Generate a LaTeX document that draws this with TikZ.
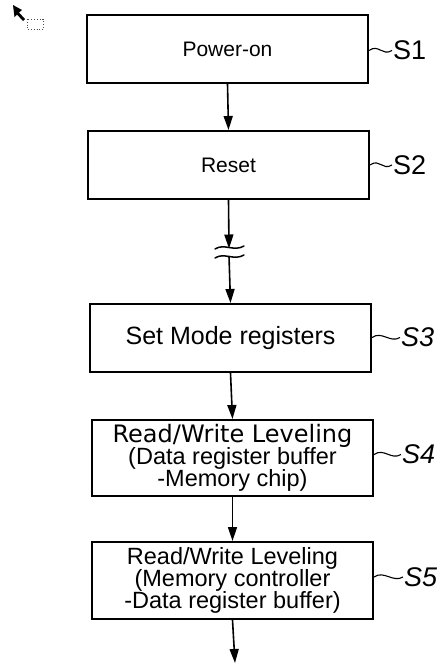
\documentclass[tikz,border=0pt]{standalone}
\usepackage{fontspec}
\setmainfont{Liberation Sans}
\newfontfamily\widefont{DejaVu Sans}
\usetikzlibrary{arrows.meta}

% fixed line spacing inside the multi-line boxes
\newcommand\tightlines{\lineskiplimit=-100pt\lineskip=0pt}

\tikzset{
  stepbox/.style={draw=black, line width=2pt, minimum width=281pt, inner sep=0pt,
                  align=center, fill=white},
  flow/.style={line width=1.6pt, -{Triangle[length=14pt,width=9pt]}},
  tag/.style={anchor=west, inner sep=0pt, font=\fontsize{27}{27}\selectfont},
  tagline/.style={line width=1.1pt},
  wave/.style={line width=1.5pt, line cap=round}
}

\begin{document}
\begin{tikzpicture}[x=1pt, y=-1pt]
\useasboundingbox (0,0) rectangle (441,665);

% mouse pointer and dotted selection box
\fill[black] (13,5) -- (22,10) -- (19,12.5) -- (25,19) -- (23,21) -- (17,14.5) -- (14.5,17) -- cycle;
\draw[black!70, dotted, line width=0.8pt] (27.5,19) rectangle (43,29.5);

% process steps
\node[stepbox, minimum height=68pt, font=\fontsize{21}{21}\selectfont] (s1) at (227.5,49) {Power-on};
\node[stepbox, minimum height=68pt, font=\fontsize{21}{21}\selectfont] (s2) at (228.5,165) {Reset};
\node[stepbox, minimum height=68pt, font=\fontsize{25}{25}\selectfont] (s3) at (230.5,338) {Set Mode registers};
\node[stepbox, minimum height=76pt, font=\fontsize{23.5}{22}\selectfont\tightlines] (s4) at (232.5,458)
  {{\widefont\fontsize{24}{22}\selectfont Read/Write Leveling}\\(Data register buffer\\-Memory chip)};
\node[stepbox, minimum height=77pt, font=\fontsize{23.5}{22}\selectfont\tightlines] (s5) at (232.5,580.5)
  {Read/Write Leveling\\(Memory controller\\-Data register buffer)};

% step labels
\node[tag] (l1) at (393,50.5) {S1};
\node[tag] (l2) at (393,165) {S2};
\node[tag, font=\fontsize{27}{27}\selectfont\itshape] (l3) at (401,337.5) {S3};
\node[tag, font=\fontsize{27}{27}\selectfont\itshape] (l4) at (402,454.5) {S4};
\node[tag, font=\fontsize{27}{27}\selectfont\itshape] (l5) at (404,577) {S5};

\foreach \b/\l in {s1/l1, s2/l2, s3/l3, s4/l4, s5/l5}
  \draw[tagline] (\b.east |- \l.west) .. controls +(10,-7) and +(-10,6) .. ([xshift=-1pt]\l.west);

% time break between reset and mode setting
\coordinate (brkA) at (229,247);
\coordinate (brkB) at (229,256);
\draw[wave] (215,249) .. controls (224,243) and (234,252) .. (244,246);
\draw[wave] (215,258) .. controls (224,252) and (234,261) .. (244,255);

% connectors
\draw[flow] (s1.south) -- (s2.north);
\draw[flow] (s2.south) -- ([yshift=-1.5pt]brkA);
\draw[flow] (brkB) -- (s3.north);
\draw[flow] (s3.south) -- (s4.north);
\draw[flow] (s4.south) -- (s5.north);
\coordinate (tail) at (235,663);
\draw[flow] (s5.south) -- (tail);
\end{tikzpicture}
\end{document}
